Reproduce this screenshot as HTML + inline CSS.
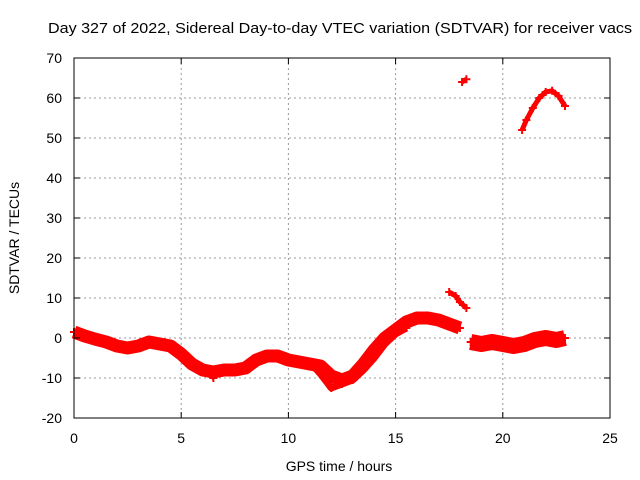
<!DOCTYPE html>
<html><head><meta charset="utf-8"><style>
body{margin:0;background:#fff}
svg{display:block;font-family:"Liberation Sans",sans-serif}
</style></head><body>
<svg id="chart" width="640" height="480">
<text x="48" y="33" font-size="15" textLength="584" lengthAdjust="spacingAndGlyphs">Day 327 of 2022, Sidereal Day-to-day VTEC variation (SDTVAR) for receiver vacs</text>
<g id="grid"></g><g id="marks"></g><g id="axes"></g>
<text x="339" y="471" font-size="14" text-anchor="middle">GPS time / hours</text>
<text transform="translate(19,238) rotate(-90)" font-size="14" text-anchor="middle">SDTVAR / TECUs</text>
</svg>
<script>
const xTicks=[0,5,10,15,20,25];
const yTicks=[-20,-10,0,10,20,30,40,50,60,70];
const mainHours=[0,0.5,1,1.5,2,2.5,3,3.5,4,4.5,5,5.5,6,6.5,7,7.5,8,8.5,9,9.5,10,10.5,11,11.5,12,12.5,13,13.5,14,14.5,15,15.5,16,16.5,17,17.5,18];
const mainVals=[1.5,0.5,-0.3,-1,-2,-2.5,-2,-1,-1.5,-2,-4,-6.5,-8,-8.5,-8,-8,-7.5,-5.5,-4.5,-4.5,-5.5,-6,-6.5,-7,-9.5,-10.5,-9.5,-6.5,-3,0,2,4,5,5,4.5,3.5,2.5];
const lowHours=[11,11.5,12,12.5,13,13.5,14,14.5,15,15.5];
const lowVals=[-6,-9,-12.5,-11.5,-10.5,-8,-5,-1.5,1,2.5];
const dropHours=[5.5,6,6.5];
const dropVals=[-6,-8.5,-10];
const lateHours=[18.5,19,19.5,20,20.5,21,21.5,22,22.5,22.9];
const lateVals=[-1,-1.5,-1,-1.5,-2,-1.5,-0.5,0,-0.5,0];
const arc1Hours=[17.5,17.8,18,18.3];
const arc1Vals=[11.5,10.5,9,7.5];
const arc2Hours=[18.1,18.3];
const arc2Vals=[64,64.7];
const arc3Hours=[20.9,21.1,21.4,21.7,22,22.3,22.6,22.9];
const arc3Vals=[52,54.5,57.5,60,61.5,61.8,60.5,58];
const X=h=>74+h*(536/25), Y=v=>338-v*4;
const NS="http://www.w3.org/2000/svg";
function mk(tag,attrs,parent){const e=document.createElementNS(NS,tag);for(const k in attrs)e.setAttribute(k,attrs[k]);parent.appendChild(e);return e;}
const grid=document.getElementById('grid'),axes=document.getElementById('axes'),marks=document.getElementById('marks');
xTicks.forEach(t=>{
  if(t>0&&t<25){const l=mk('line',{x1:X(t),x2:X(t),y1:58,y2:418,stroke:'#999','stroke-dasharray':'2,3'},grid);
  
  }
  const tx=mk('text',{x:X(t),y:443,'font-size':14,'text-anchor':'middle'},axes);tx.textContent=t;
  
  
  mk('line',{x1:X(t),x2:X(t),y1:418,y2:412,stroke:'#000'},axes);
  mk('line',{x1:X(t),x2:X(t),y1:58,y2:64,stroke:'#000'},axes);
});
yTicks.forEach(t=>{
  if(t>-20&&t<70){const l=mk('line',{x1:74,x2:610,y1:Y(t),y2:Y(t),stroke:'#999','stroke-dasharray':'2,3'},grid);
  
  }
  const tx=mk('text',{x:62,y:Y(t)+5,'font-size':14,'text-anchor':'end'},axes);tx.textContent=t;
  
  
  mk('line',{x1:74,x2:80,y1:Y(t),y2:Y(t),stroke:'#000'},axes);
  mk('line',{x1:604,x2:610,y1:Y(t),y2:Y(t),stroke:'#000'},axes);
});
const frame=mk('rect',{x:74,y:58,width:536,height:360,fill:'none',stroke:'#000'},axes);


function series(hs,vs,w,name){
  const p=mk('polyline',{points:hs.map((h,i)=>X(h)+','+Y(vs[i])).join(' '),fill:'none',stroke:'#f00','stroke-width':w,'stroke-linejoin':'round','stroke-linecap':'butt'},marks);
  
  
  hs.forEach((h,i)=>{const c=mk('path',{d:`M${X(h)-4},${Y(vs[i])}h8M${X(h)},${Y(vs[i])-4}v8`,stroke:'#f00','stroke-width':2},marks);
    
    });
}
series(mainHours,mainVals,13,'main-band');
series(lowHours,lowVals,7,'lower-branch');
series(dropHours,dropVals,4,'drop-branch');
series(lateHours,lateVals,16,'late-cluster');
series(arc1Hours,arc1Vals,5,'arc-high');
series(arc2Hours,arc2Vals,5,'arc-64');
series(arc3Hours,arc3Vals,5,'arc-60');
</script>
</body></html>
